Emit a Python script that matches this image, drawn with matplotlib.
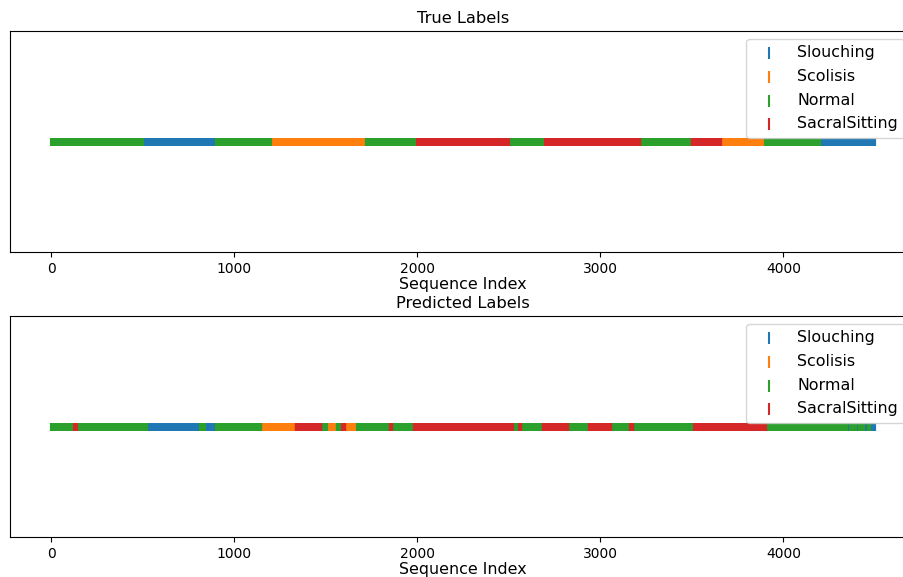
import numpy as np
import matplotlib
matplotlib.use("Agg")
import matplotlib.pyplot as plt

classes = ["Slouching", "Scolisis", "Normal", "SacralSitting"]
class_colors = ["#1f77b4", "#ff7f0e", "#2ca02c", "#d62728"]
n_samples = 4500

# segment start index and class id (0=Slouching, 1=Scolisis, 2=Normal, 3=SacralSitting)
true_starts = [0, 500, 900, 1200, 1720, 2000, 2500, 2700, 3220, 3500, 3660, 3900, 4200]
true_labels = [2, 0, 2, 1, 2, 3, 2, 3, 2, 3, 1, 2, 0]

pred_starts = [0, 127, 141, 524, 812, 819, 830, 839, 899, 1149, 1335, 1371, 1377,
               1477, 1505, 1559, 1590, 1608, 1672, 1851, 1863, 1982, 2033, 2042,
               2522, 2558, 2567, 2686, 2804, 2813, 2826, 2939, 3059, 3163, 3181,
               3514, 3661, 3667, 3905, 4348, 4366, 4399, 4411, 4442, 4460, 4471]
pred_labels = [2, 3, 2, 0, 2, 0, 2, 0, 2, 1, 3, 1, 3,
               2, 1, 2, 3, 1, 2, 3, 2, 3, 2, 3,
               2, 3, 2, 3, 2, 3, 2, 3, 2, 3, 2,
               3, 2, 3, 2, 0, 2, 0, 2, 0, 2, 0]


def expand(starts, labels, n):
    arr = np.empty(n, dtype=int)
    bounds = list(starts) + [n]
    for i, lab in enumerate(labels):
        arr[bounds[i]:bounds[i + 1]] = lab
    return arr


true_seq = expand(true_starts, true_labels, n_samples)
pred_seq = expand(pred_starts, pred_labels, n_samples)

W, H = 904, 577
fig = plt.figure(figsize=(W / 100, H / 100), dpi=100)

ax_top = fig.add_axes([10 / W, 1 - 252 / H, 906 / W, 221 / H])
ax_bot = fig.add_axes([10 / W, 1 - 537 / H, 906 / W, 221 / H])

idx = np.arange(n_samples)
for ax, seq, title in [(ax_top, true_seq, "True Labels"), (ax_bot, pred_seq, "Predicted Labels")]:
    for c, (name, col) in enumerate(zip(classes, class_colors)):
        m = seq == c
        ax.scatter(idx[m], np.zeros(m.sum()), marker="|", s=34, color=col, label=name)
    ax.set_yticks([])
    ax.set_ylim(-1, 1)
    ax.set_xlabel("Sequence Index", fontsize=11.4, labelpad=1)
    ax.set_title(title, fontsize=11.7, pad=5.5)
    ax.tick_params(axis="x", labelsize=10)
    ax.legend(loc="upper right", bbox_to_anchor=(1 - 4 / 906, 1), fontsize=11.4,
              markerscale=1.4, labelspacing=0.55)

fig.savefig("out.png", dpi=100)
